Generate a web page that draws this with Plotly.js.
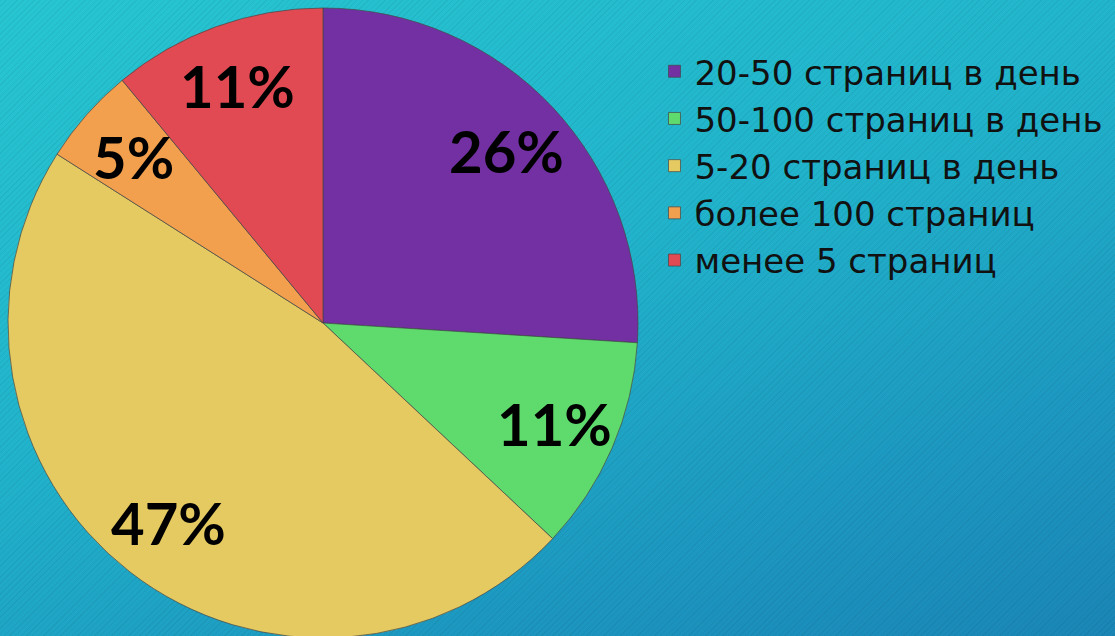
<!DOCTYPE html>
<html>
<head>
<meta charset="utf-8">
<script src="https://cdn.plot.ly/plotly-3.0.1.min.js"></script>
<style>
html,body{margin:0;padding:0;width:1115px;height:636px;overflow:hidden;}
body{
  background:
    repeating-linear-gradient(135deg, rgba(0,0,0,0.05) 0px, rgba(0,0,0,0.05) 1px, rgba(255,255,255,0) 1px, rgba(255,255,255,0) 4px),
    linear-gradient(160deg, #27c6d2 0%, #21b3cb 45%, #1c95bf 80%, #1a86b6 100%);
}
#chart{width:1115px;height:640px;}
</style>
</head>
<body>
<div id="chart"></div>
<script>
const categories = ["20-50 страниц в день", "50-100 страниц в день", "5-20 страниц в день", "более 100 страниц", "менее 5 страниц"];
const values = [26, 11, 47, 5, 11];
const colors = ["#7230a2", "#5edb6c", "#e4ca60", "#f2a04e", "#e14a52"];

const W = 1115, H = 640;
const margin = {l: 8, r: 0, t: 8, b: 2};
const plotW = W - margin.l - margin.r, plotH = H - margin.t - margin.b;
const domX = [0, plotH / plotW], domY = [0, 1];
const radius = Math.min(plotW * (domX[1] - domX[0]), plotH * (domY[1] - domY[0])) / 2;
const labelFrac = 0.8;

// percent labels placed along each slice's mid-angle (clockwise from 12 o'clock)
const total = values.reduce((a, b) => a + b, 0);
let cum = 0;
const annotations = values.map(v => {
  const mid = (cum + v / 2) / total * 2 * Math.PI;
  cum += v;
  return {
    xref: "paper", yref: "paper",
    x: (domX[0] + domX[1]) / 2, y: (domY[0] + domY[1]) / 2,
    xanchor: "center", yanchor: "middle",
    xshift: Math.sin(mid) * radius * labelFrac,
    yshift: Math.cos(mid) * radius * labelFrac,
    text: Math.round(v / total * 100) + "%",
    showarrow: false,
    font: {family: "Lato, 'Open Sans', sans-serif", size: 58, color: "#000", weight: "bold"}
  };
});

const data = [{
  type: "pie",
  labels: categories,
  values: values,
  sort: false,
  direction: "clockwise",
  rotation: 0,
  marker: {colors: colors, line: {color: "rgba(70,70,70,0.7)", width: 1}},
  textinfo: "none",
  hoverinfo: "none",
  domain: {x: domX, y: domY}
}];

const layout = {
  width: W,
  height: H,
  margin: margin,
  paper_bgcolor: "rgba(0,0,0,0)",
  plot_bgcolor: "rgba(0,0,0,0)",
  showlegend: true,
  annotations: annotations,
  legend: {
    x: 0.584, y: 0.945, xanchor: "left", yanchor: "top",
    font: {family: "'DejaVu Sans', sans-serif", size: 34, color: "#111"},
    bgcolor: "rgba(0,0,0,0)",
    itemwidth: 30,
    tracegroupgap: 0
  }
};

Plotly.newPlot("chart", data, layout, {staticPlot: true, displayModeBar: false});
</script>
</body>
</html>
